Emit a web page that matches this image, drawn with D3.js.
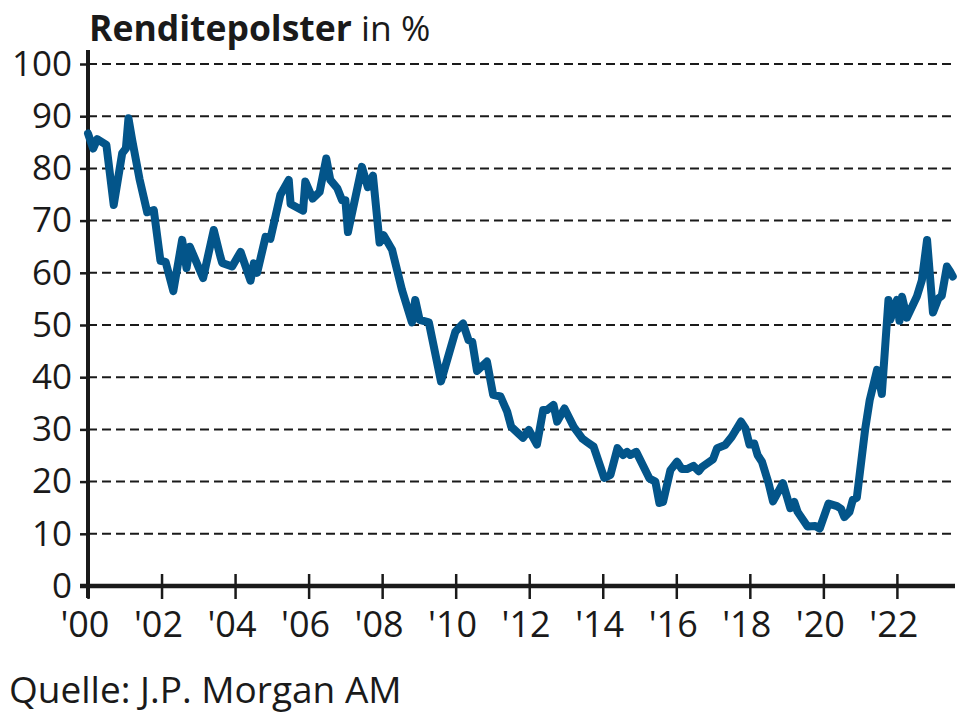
<!DOCTYPE html>
<html>
<head>
<meta charset="utf-8">
<script src="https://cdnjs.cloudflare.com/ajax/libs/d3/7.8.5/d3.min.js"></script>
<style>
  body { margin: 0; background: #fff; }
  svg text { font-family: "Open Sans", "Noto Sans", sans-serif; fill: #1a1a1a; }
</style>
</head>
<body>
<svg id="chart" width="978" height="716"></svg>
<script>
// decimal years and the yield cushion in %
var years = [
  2000.00, 2000.14, 2000.25, 2000.50, 2000.70, 2000.93, 2001.03, 2001.10, 2001.20, 2001.40,
  2001.61, 2001.79, 2001.97, 2002.11, 2002.32, 2002.56, 2002.68, 2002.77, 2003.13, 2003.42,
  2003.60, 2003.65, 2003.92, 2004.15, 2004.42, 2004.51, 2004.60, 2004.83, 2004.96, 2005.23,
  2005.46, 2005.51, 2005.85, 2005.91, 2006.11, 2006.30, 2006.48, 2006.59, 2006.78, 2006.91,
  2007.00, 2007.07, 2007.45, 2007.61, 2007.75, 2007.93, 2008.04, 2008.27, 2008.54, 2008.68,
  2008.81, 2008.90, 2009.02, 2009.27, 2009.60, 2009.99, 2010.20, 2010.35, 2010.45, 2010.58,
  2010.85, 2011.02, 2011.22, 2011.40, 2011.51, 2011.83, 2011.99, 2012.21, 2012.38, 2012.48,
  2012.66, 2012.76, 2012.96, 2013.21, 2013.45, 2013.57, 2013.75, 2014.04, 2014.21, 2014.40,
  2014.55, 2014.66, 2014.75, 2014.91, 2015.27, 2015.43, 2015.54, 2015.64, 2015.84, 2016.02,
  2016.15, 2016.29, 2016.47, 2016.61, 2016.70, 2017.00, 2017.11, 2017.33, 2017.51, 2017.76,
  2017.88, 2017.99, 2018.12, 2018.21, 2018.33, 2018.51, 2018.63, 2018.90, 2019.10, 2019.21,
  2019.30, 2019.57, 2019.78, 2019.90, 2020.14, 2020.37, 2020.48, 2020.57, 2020.71, 2020.80,
  2020.91, 2021.14, 2021.26, 2021.46, 2021.59, 2021.77, 2021.82, 2022.00, 2022.07, 2022.14,
  2022.27, 2022.54, 2022.68, 2022.82, 2022.98, 2023.13, 2023.22, 2023.36, 2023.45, 2023.52
];
var values = [
  86.7, 83.8, 85.6, 84.5, 73.0, 82.9, 83.8, 89.6, 85.5, 78.0,
  71.6, 72.0, 62.3, 62.1, 56.5, 66.3, 60.9, 65.0, 59.0, 68.2,
  63.1, 61.9, 61.2, 64.0, 58.5, 61.8, 60.0, 66.9, 66.5, 74.9,
  77.8, 73.2, 71.9, 77.5, 74.2, 75.5, 81.9, 77.8, 76.2, 73.9,
  73.9, 67.8, 80.3, 76.4, 78.6, 65.8, 67.2, 64.4, 56.7, 53.5,
  50.5, 54.8, 51.0, 50.5, 39.2, 48.7, 50.3, 47.1, 46.8, 41.2,
  43.0, 36.6, 36.3, 33.4, 30.5, 28.4, 29.9, 27.1, 33.7, 33.7,
  34.7, 31.5, 34.0, 30.5, 28.2, 27.6, 26.7, 20.7, 21.3, 26.4,
  25.1, 25.7, 25.1, 25.7, 20.6, 20.0, 15.9, 16.1, 22.2, 23.8,
  22.4, 22.4, 23.0, 22.0, 22.8, 24.3, 26.4, 27.0, 28.6, 31.5,
  30.2, 27.1, 27.3, 25.1, 23.8, 19.7, 16.2, 19.7, 14.9, 16.1,
  14.2, 11.4, 11.5, 11.0, 15.8, 15.3, 14.8, 13.2, 14.2, 16.5,
  16.9, 30.2, 35.6, 41.4, 36.8, 54.8, 51.0, 54.8, 50.8, 55.4,
  51.4, 55.4, 58.6, 66.3, 52.4, 55.1, 55.6, 61.2, 60.2, 59.3
];
var yTicks = [0, 10, 20, 30, 40, 50, 60, 70, 80, 90, 100];
var xTicks = [2000, 2002, 2004, 2006, 2008, 2010, 2012, 2014, 2016, 2018, 2020, 2022];

var svg = d3.select("#chart");

var x = d3.scaleLinear().domain([2000, 2023.58]).range([88, 955]);
var y = d3.scaleLinear().domain([0, 100]).range([586, 64]);

// gridlines
svg.append("g")
  .selectAll("line")
  .data(yTicks.filter(function(d) { return d > 0; }))
  .enter()
  .append("line")
    .attr("x1", 88)
    .attr("x2", 955)
    .attr("y1", function(d) { return y(d); })
    .attr("y2", function(d) { return y(d); })
    .attr("stroke", "#1a1a1a")
    .attr("stroke-width", 2)
    .attr("stroke-dasharray", "9,5");

// y axis
var yAxis = svg.append("g")
  .attr("transform", "translate(88,0)")
  .call(d3.axisLeft(y).tickValues(yTicks).tickSize(8).tickPadding(8));
yAxis.select(".domain").remove();
yAxis.selectAll(".tick line").attr("stroke", "#1a1a1a").attr("stroke-width", 2.5);
yAxis.selectAll(".tick text")
  .attr("font-size", 35)
  .attr("fill", "#1a1a1a")
  .style("font-family", "'Open Sans', sans-serif");

svg.append("line")
  .attr("x1", 88).attr("x2", 88)
  .attr("y1", 50).attr("y2", 598)
  .attr("stroke", "#1a1a1a")
  .attr("stroke-width", 4);

// x axis
var xAxis = svg.append("g")
  .attr("transform", "translate(0,586)")
  .call(d3.axisBottom(x).tickValues(xTicks).tickSize(13).tickPadding(12)
    .tickFormat(function(d) { return "'" + String(d).slice(2); }));
xAxis.select(".domain").remove();
xAxis.selectAll(".tick line")
  .attr("y1", -12)
  .attr("stroke", "#1a1a1a")
  .attr("stroke-width", 2.5);
xAxis.selectAll(".tick text")
  .attr("font-size", 36)
  .attr("fill", "#1a1a1a")
  .attr("dx", "-0.1em")
  .style("font-family", "'Open Sans', sans-serif");

svg.append("line")
  .attr("x1", 80).attr("x2", 955)
  .attr("y1", 586).attr("y2", 586)
  .attr("stroke", "#1a1a1a")
  .attr("stroke-width", 4.5);

// the series
var line = d3.line()
  .x(function(d, i) { return x(years[i]); })
  .y(function(d) { return y(d); });

svg.append("path")
  .datum(values)
  .attr("d", line)
  .attr("fill", "none")
  .attr("stroke", "#03558a")
  .attr("stroke-width", 8)
  .attr("stroke-linejoin", "round")
  .attr("stroke-linecap", "round");

// title
var title = svg.append("text")
  .attr("x", 89)
  .attr("y", 41)
  .attr("font-size", 35.5);
title.append("tspan").attr("font-weight", "bold").text("Renditepolster");
title.append("tspan").text(" in %");

// source
svg.append("text")
  .attr("x", 9)
  .attr("y", 703)
  .attr("font-size", 37)
  .text("Quelle: J.P. Morgan AM");
</script>
</body>
</html>
